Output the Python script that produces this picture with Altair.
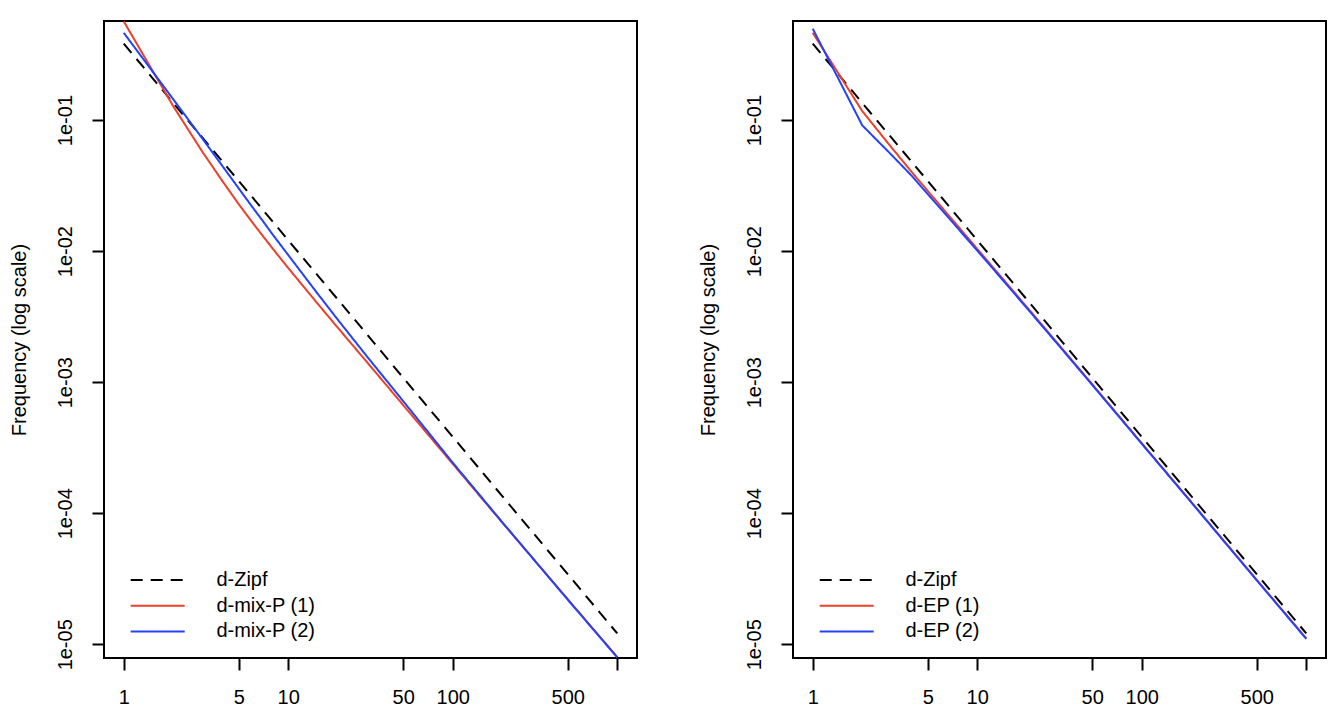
import altair as alt
import pandas as pd

# ---- data ----
k = [1, 2, 3, 4, 5, 6, 7, 8, 10, 15, 20, 30, 50, 100, 200, 500, 1000]

zipf = [0.383, 0.135, 0.0737, 0.0479, 0.0343, 0.0261, 0.0207, 0.01693, 0.0121,
        0.00659, 0.00428, 0.00233, 0.00108, 3.83e-4, 1.35e-4, 3.43e-5, 1.21e-5]

mixp1 = [0.566, 0.1275, 0.0575, 0.0339, 0.02282, 0.0168, 0.01306, 0.01055, 0.00743,
         0.00401, 0.002605, 0.001429, 0.000668, 0.000238, 8.47e-5, 2.21e-5, 7.98e-6]
mixp2 = [0.463, 0.144, 0.0725, 0.0442, 0.0301, 0.0220, 0.0170, 0.0135, 0.00933,
         0.00478, 0.00300, 0.00158, 0.000716, 0.000243, 8.55e-5, 2.19e-5, 7.95e-6]

ep1 = [0.463, 0.117, 0.0621, 0.0401, 0.0288, 0.02203, 0.01758, 0.01445, 0.0104,
       0.00573, 0.00375, 0.00206, 0.000965, 0.000342, 0.000122, 3.10e-5, 1.11e-5]
ep2 = [0.498, 0.0911, 0.0545, 0.0375, 0.0272, 0.02099, 0.01686, 0.01392, 0.0101,
       0.00561, 0.00368, 0.00203, 0.000953, 0.000339, 0.000121, 3.08e-5, 1.10e-5]

left_names = ["d-Zipf", "d-mix-P (1)", "d-mix-P (2)"]
right_names = ["d-Zipf", "d-EP (1)", "d-EP (2)"]

x_ticks = [1, 5, 10, 50, 100, 500, 1000]
y_ticks = [1e-5, 1e-4, 1e-3, 1e-2, 1e-1]

colors = ["#000000", "#EB4129", "#2342FA"]
dashes = [[12, 8], [1, 0], [1, 0]]

FONT = "Liberation Sans"
X_DOM = [10 ** -0.12, 10 ** 3.12]
Y_DOM = [7.86e-6, 0.570]
W, H = 533, 637


def make_df(names, series_list):
    rows = []
    for name, vals in zip(names, series_list):
        for kk, v in zip(k, vals):
            rows.append({"k": kk, "freq": v, "series": name})
    return pd.DataFrame(rows)


def panel(names, series_list):
    df = make_df(names, series_list)
    base = alt.Chart(df)
    xenc = alt.X(
        "k:Q",
        scale=alt.Scale(type="log", domain=X_DOM, nice=False),
        axis=alt.Axis(
            values=x_ticks, format="d",
            labelExpr="datum.value == 1000 ? '' : datum.label",
            title=None, grid=False, domain=False,
            tickSize=12, tickWidth=2, tickColor="black",
            labelPadding=17, labelFontSize=20, labelFont=FONT, labelColor="black",
            labelFlush=False, labelOverlap=False, labelBaseline="top",
        ),
    )
    yenc = alt.Y(
        "freq:Q",
        scale=alt.Scale(type="log", domain=Y_DOM, nice=False),
        axis=alt.Axis(
            values=y_ticks,
            labelExpr="'1e-0' + (-round(log(datum.value) / LN10))",
            title="Frequency (log scale)", grid=False, domain=False,
            tickSize=12, tickWidth=2, tickColor="black",
            labelPadding=20.6, labelFontSize=20, labelFont=FONT, labelColor="black",
            labelAngle=-90, labelAlign="center", labelBaseline="alphabetic",
            labelOverlap=False, labelFlush=False,
            titleFontSize=20, titleFont=FONT, titleFontWeight="normal",
            titleColor="black", titleAngle=270, titleAlign="center",
            titleBaseline="alphabetic", titleX=-79, titleY=H / 2,
        ),
    )
    leg = alt.Legend(
        title=None, orient="none", legendX=42.7, legendY=548,
        symbolType="M-2.7,0H2.7", symbolSize=400, symbolStrokeWidth=2,
        labelFontSize=20, labelFont=FONT, labelColor="black",
        labelOffset=47.7, rowPadding=4.7, padding=0,
    )
    color = alt.Color("series:N", scale=alt.Scale(domain=names, range=colors), legend=leg)
    dash = alt.StrokeDash("series:N", scale=alt.Scale(domain=names, range=dashes), legend=leg)
    layers = []
    for nm in names:
        layers.append(
            base.transform_filter(alt.datum.series == nm)
            .mark_line(strokeWidth=2, clip=True)
            .encode(x=xenc, y=yenc, color=color, strokeDash=dash)
        )
    return alt.layer(*layers).properties(width=W, height=H)


left = panel(left_names, [zipf, mixp1, mixp2])
right = panel(right_names, [zipf, ep1, ep2])

chart = (
    alt.hconcat(left, right, spacing=59)
    .resolve_scale(color="independent", strokeDash="independent")
    .resolve_legend(color="independent", strokeDash="independent")
    .properties(padding={"left": 0, "top": 12, "right": 0, "bottom": 0},
                background="white")
    .configure_view(stroke="black", strokeWidth=2)
)

chart.save("out.html", embed_options={"renderer": "svg", "actions": False})
